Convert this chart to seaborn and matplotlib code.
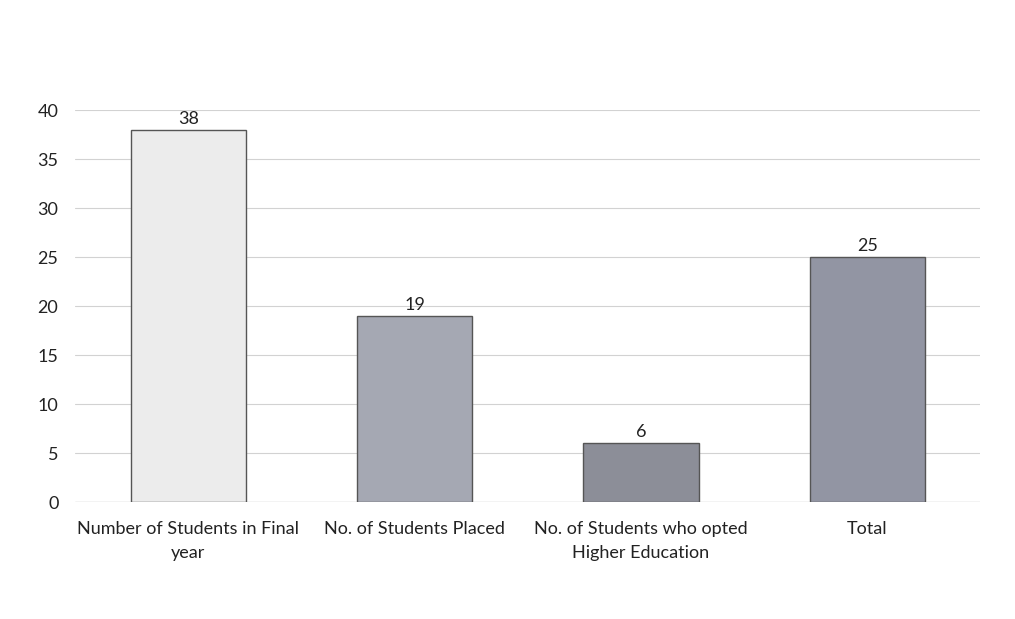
import matplotlib
matplotlib.use("Agg")
import matplotlib.pyplot as plt
import seaborn as sns
import pandas as pd

# data
categories = ["Number of Students in Final\nyear", "No. of Students Placed",
              "No. of Students who opted\nHigher Education", "Total"]
counts = [38, 19, 6, 25]
bar_colors = ["#ececec", "#a3a6b5", "#8a8c9a", "#8f93a6"]

df = pd.DataFrame({"category": categories, "count": counts})

sns.set_style("white")
plt.rcParams['font.family'] = ['Lato', 'DejaVu Sans']

fig = plt.figure(figsize=(10.15, 6.19), dpi=100)
ax = fig.add_axes([0.074, 0.189, 0.892, 0.633])

sns.barplot(data=df, x="category", y="count", hue="category", palette=bar_colors,
            width=0.51, edgecolor="#555555", linewidth=1.0, legend=False, ax=ax, zorder=3)

for c in ax.containers:
    ax.bar_label(c, fontsize=13, padding=2, color="#222222")

ax.set_ylim(0, 40)
ax.set_yticks(range(0, 41, 5))
ax.yaxis.grid(True, color="#d2d2d2", linewidth=0.8, zorder=0)
ax.set_axisbelow(True)
for s in ax.spines.values():
    s.set_visible(False)
ax.axhline(0, color="#bbbbbb", linewidth=0.9, zorder=1)
ax.tick_params(axis="both", length=0, labelsize=13, colors="#222222")
ax.tick_params(axis="y", pad=12)
ax.tick_params(axis="x", pad=14)
for lbl in ax.get_xticklabels():
    lbl.set_linespacing(1.55)
ax.set_xlabel("")
ax.set_ylabel("")

plt.savefig("out.png", dpi=100)
